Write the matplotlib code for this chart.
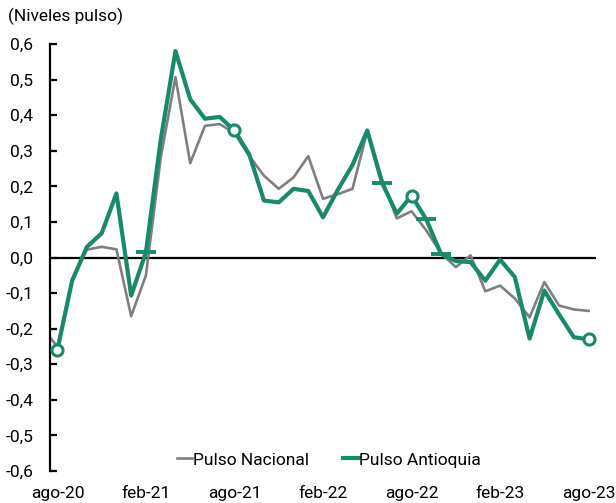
import numpy as np
import matplotlib.pyplot as plt

plt.rcParams['font.family'] = ['Roboto', 'DejaVu Sans']

# months from jul-20 (nacional has one extra earlier point) to ago-23
nacional = [-0.20, -0.25, -0.06, 0.022, 0.03, 0.023, -0.165, -0.05, 0.28, 0.507, 0.265,
            0.37, 0.375, 0.35, 0.285, 0.23, 0.193, 0.225, 0.285, 0.165, 0.178,
            0.193, 0.355, 0.22, 0.11, 0.13, 0.076, 0.012, -0.027, 0.006, -0.095,
            -0.079, -0.115, -0.168, -0.069, -0.135, -0.146, -0.15]
antioquia = [-0.26, -0.065, 0.03, 0.068, 0.18, -0.107, 0.015, 0.33, 0.58, 0.445,
             0.39, 0.395, 0.357, 0.29, 0.16, 0.155, 0.193, 0.187, 0.113, 0.19,
             0.26, 0.357, 0.21, 0.123, 0.174, 0.107, 0.01, -0.01, -0.013, -0.065,
             -0.006, -0.055, -0.228, -0.093, -0.16, -0.224, -0.23]
circle_idx = [0, 12, 24, 36]
dash_idx = [6, 22, 25, 26]
tick_labels = ['ago-20', 'feb-21', 'ago-21', 'feb-22', 'ago-22', 'feb-23', 'ago-23']

green = '#188a6b'
grey = '#7f7f7f'
fs = 12.5

fig = plt.figure(figsize=(6.16, 5.03), dpi=100)
ax = fig.add_axes([0.0812, 0.0636, 0.8863, 0.8489])

xa = np.arange(len(antioquia))
xn = np.arange(len(nacional)) - 1

ax.axhline(0, color='black', lw=1.6, zorder=1)
ax.plot(xn, nacional, color=grey, lw=1.9, label='Pulso Nacional', zorder=2)
ax.plot(xa, antioquia, color=green, lw=3.0, label='Pulso Antioquia', zorder=3)
a = np.array(antioquia)
ax.plot(xa[circle_idx], a[circle_idx], 'o', ms=8, mfc='white', mec=green, mew=2.2, zorder=4)
ax.plot(xa[dash_idx], a[dash_idx], '_', ms=14, mec=green, mew=2.8, zorder=4)

ax.set_xlim(-0.5, 36.5)
ax.set_ylim(-0.6, 0.6)
ax.set_yticks(np.arange(-0.6, 0.61, 0.1))
ax.yaxis.set_major_formatter(plt.FuncFormatter(lambda v, p: f'{v:.1f}'.replace('.', ',').replace('-0,0', '0,0')))
ax.set_xticks(np.arange(0, 37, 6))
ax.set_xticklabels(tick_labels)

for s in ['top', 'right', 'bottom']:
    ax.spines[s].set_visible(False)
ax.spines['left'].set_linewidth(1.6)
ax.tick_params(axis='y', direction='in', length=5, width=1.6, pad=12, labelsize=fs, colors='black')
ax.tick_params(axis='x', length=0, pad=11, labelsize=fs)

fig.text(0.013, 0.968, '(Niveles pulso)', fontsize=fs, va='center', ha='left')

ax.legend(loc='center', bbox_to_anchor=(0.534, 0.0855), bbox_transform=fig.transFigure,
          ncol=2, frameon=False, fontsize=fs, handlelength=0.87, handletextpad=0.05,
          columnspacing=2.0)

fig.savefig('out.png', dpi=100)
